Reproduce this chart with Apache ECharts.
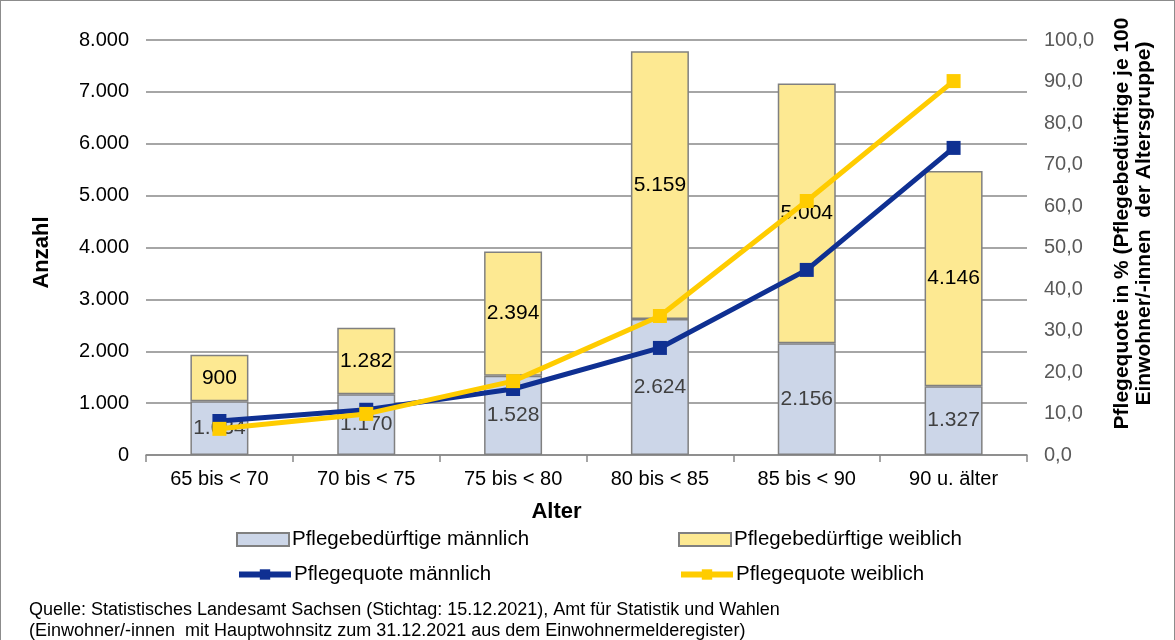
<!DOCTYPE html>
<html>
<head>
<meta charset="utf-8">
<script src="https://cdn.jsdelivr.net/npm/echarts@6/dist/echarts.min.js"></script>
<style>
  html, body { margin: 0; padding: 0; background: #fff; }
  #frame { position: relative; width: 1175px; height: 640px; box-sizing: border-box; border: 1px solid #8c8c8c; border-bottom: none; }
  #chart { position: absolute; left: 0; top: 0; width: 1173px; height: 640px; }
</style>
</head>
<body>
<div id="frame"><div id="chart"></div></div>
<script>
// Altersgruppen
const categories = ['65 bis < 70', '70 bis < 75', '75 bis < 80', '80 bis < 85', '85 bis < 90', '90 u. älter'];
// Pflegebedürftige (Anzahl)
const maleCount = [1034, 1170, 1528, 2624, 2156, 1327];
const femaleCount = [900, 1282, 2394, 5159, 5004, 4146];
// Pflegequote in %
const maleQuote = [8.2, 10.9, 15.9, 25.8, 44.6, 74.0];
const femaleQuote = [6.3, 9.9, 17.8, 33.5, 61.2, 90.1];

const fmtInt = v => String(Math.round(v)).replace(/\B(?=(\d{3})+(?!\d))/g, '.');
const fmtPct = v => v.toFixed(1).replace('.', ',');

const font = 'Liberation Sans, Arial, sans-serif';
const myChart = echarts.init(document.getElementById('chart'));

function legendItem(name, left, top, icon) {
  const item = { name: name };
  if (icon) item.icon = icon;
  else item.lineStyle = { width: 6 };
  return {
    data: [item],
    left: left, top: top,
    itemWidth: 52, itemHeight: 13, itemGap: 0,
    textStyle: { fontFamily: font, fontSize: 20.5, color: '#000', padding: [0, 0, 0, -2] },
    selectedMode: false
  };
}

const option = {
  animation: false,
  textStyle: { fontFamily: font },
  grid: { left: 145, right: 147, top: 39, bottom: 186 },
  legend: [
    legendItem('Pflegebedürftige männlich', 230, 523, 'rect'),
    legendItem('Pflegebedürftige weiblich', 672, 523, 'rect'),
    legendItem('Pflegequote männlich', 230, 558),
    legendItem('Pflegequote weiblich', 672, 558)
  ],
  graphic: [{
    type: 'text', left: 28, top: 599,
    style: {
      text: 'Quelle: Statistisches Landesamt Sachsen (Stichtag: 15.12.2021), Amt für Statistik und Wahlen\n(Einwohner/-innen  mit Hauptwohnsitz zum 31.12.2021 aus dem Einwohnermelderegister)',
      font: '18px ' + font, fill: '#000', lineHeight: 21
    }
  }],
  xAxis: {
    type: 'category',
    data: categories,
    name: 'Alter',
    nameLocation: 'middle',
    nameGap: 46,
    nameTextStyle: { fontSize: 22, fontWeight: 'bold', color: '#000', padding: [0, 60, 0, 0] },
    axisLine: { lineStyle: { color: '#888', width: 1.5 } },
    axisTick: { show: true, length: 7, lineStyle: { color: '#888', width: 1.5 } },
    axisLabel: { fontSize: 20, color: '#000', margin: 14 }
  },
  yAxis: [{
    type: 'value', min: 0, max: 8000, interval: 1000,
    name: 'Anzahl', nameLocation: 'middle', nameGap: 93, nameRotate: 90,
    nameTextStyle: { fontSize: 22, fontWeight: 'bold', color: '#000', padding: [0, 10, 0, 0] },
    axisLine: { show: false }, axisTick: { show: false },
    axisLabel: { fontSize: 20, color: '#000', margin: 17, formatter: fmtInt },
    splitLine: { lineStyle: { color: '#888', width: 1.5 } }
  }, {
    type: 'value', min: 0, max: 100, interval: 10,
    name: 'Pflegequote in % (Pflegebedürftige je 100\nEinwohner/-innen  der Altersgruppe)',
    nameLocation: 'middle', nameGap: 84, nameRotate: 90,
    nameTextStyle: { fontSize: 21, fontWeight: 'bold', color: '#000', lineHeight: 22, padding: [0, 0, 0, 48] },
    axisLine: { show: false }, axisTick: { show: false },
    axisLabel: { fontSize: 20, color: '#595959', margin: 17, formatter: fmtPct },
    splitLine: { show: false }
  }],
  series: [{
    name: 'Pflegebedürftige männlich', type: 'bar', stack: 'a',
    barWidth: 58, data: maleCount,
    itemStyle: { color: '#ccd6e8', borderColor: '#808080', borderWidth: 1.5 },
    label: { show: true, position: 'inside', fontSize: 21, color: '#404040', formatter: p => fmtInt(p.value) }
  }, {
    name: 'Pflegebedürftige weiblich', type: 'bar', stack: 'a',
    barWidth: 58, data: femaleCount,
    itemStyle: { color: '#fde992', borderColor: '#808080', borderWidth: 1.5 },
    label: { show: true, position: 'inside', fontSize: 21, color: '#000', formatter: p => fmtInt(p.value) }
  }, {
    name: 'Pflegequote männlich', type: 'line', yAxisIndex: 1, data: maleQuote,
    symbol: 'rect', symbolSize: 14, z: 5,
    lineStyle: { color: '#0f3092', width: 5 },
    itemStyle: { color: '#0f3092' }
  }, {
    name: 'Pflegequote weiblich', type: 'line', yAxisIndex: 1, data: femaleQuote,
    symbol: 'rect', symbolSize: 14, z: 6,
    lineStyle: { color: '#ffcc00', width: 5 },
    itemStyle: { color: '#ffcc00' }
  }]
};
myChart.setOption(option);
</script>
</body>
</html>
